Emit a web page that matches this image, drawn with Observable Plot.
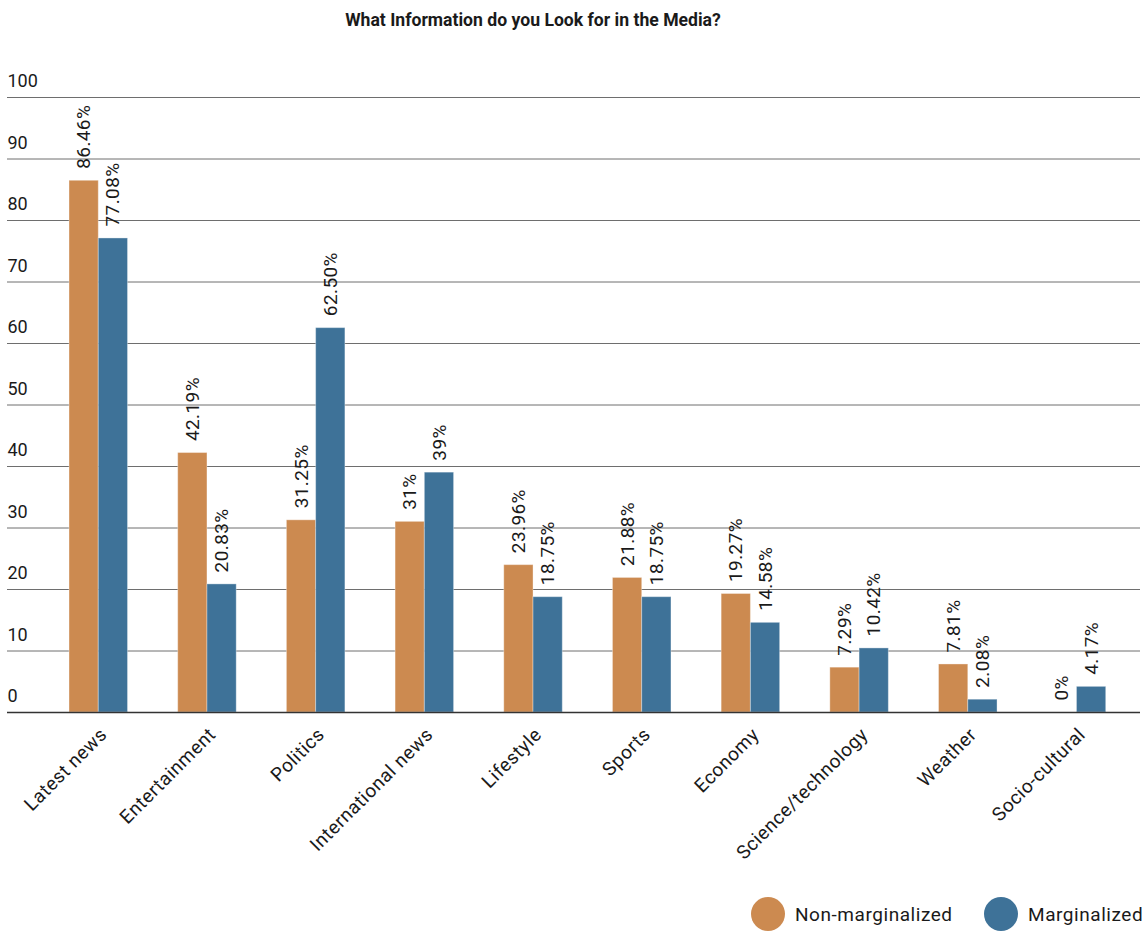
<!DOCTYPE html>
<html>
<head>
<meta charset="utf-8">
<script src="https://cdn.jsdelivr.net/npm/d3@7"></script>
<script src="https://cdn.jsdelivr.net/npm/@observablehq/plot@0.6"></script>
<style>
  body { margin: 0; background: #fff; font-family: Roboto, "Noto Sans", sans-serif; color: #1a1a1a; }
  #wrap { position: relative; width: 1143px; height: 932px; overflow: hidden; }
  #title { position: absolute; top: 10px; left: 0; width: 1066px; text-align: center; font-weight: 700; font-size: 17.6px; }
  #chart { position: absolute; top: 40px; left: 0; }
  .leg { position: absolute; top: 897px; height: 34px; display: flex; align-items: center; font-size: 19px; letter-spacing: 0.55px; }
  .dot { width: 34px; height: 34px; border-radius: 50%; margin-right: 10px; }
</style>
</head>
<body>
<div id="wrap">
  <div id="title">What Information do you Look for in the Media?</div>
  <div id="chart"></div>
</div>
<script>
const categories = ["Latest news", "Entertainment", "Politics", "International news", "Lifestyle", "Sports", "Economy", "Science/technology", "Weather", "Socio-cultural"];
const series = ["Non-marginalized", "Marginalized"];
const colors = ["#cc8a50", "#3e7298"];
const nonMarginalized = ["86.46", "42.19", "31.25", "31", "23.96", "21.88", "19.27", "7.29", "7.81", "0"];
const marginalized = ["77.08", "20.83", "62.50", "39", "18.75", "18.75", "14.58", "10.42", "2.08", "4.17"];
const yTicks = [0, 10, 20, 30, 40, 50, 60, 70, 80, 90, 100];

const rowsA = categories.map((c, i) => ({category: c, series: series[0], value: +nonMarginalized[i], label: nonMarginalized[i] + "%"}));
const rowsB = categories.map((c, i) => ({category: c, series: series[1], value: +marginalized[i], label: marginalized[i] + "%"}));

const half = 29.25;
const chart = Plot.plot({
  width: 1143,
  height: 840,
  marginLeft: 7,
  marginRight: 3,
  marginTop: 57,
  marginBottom: 168,
  style: {fontFamily: "Roboto, 'Noto Sans', sans-serif", fontSize: "18px", color: "#1a1a1a", background: "#fff"},
  x: {domain: categories, paddingInner: 0.4617, paddingOuter: 0.443, align: 0.644, round: false, label: null},
  y: {domain: [0, 100], label: null},
  color: {domain: series, range: colors},
  marks: [
    Plot.gridY(yTicks, {stroke: "#6e6e6e", strokeOpacity: 1}),
    Plot.axisY(yTicks, {anchor: "left", tickSize: 0, tickPadding: 0, textAnchor: "start", dx: 0, dy: -16, fontSize: 18, fill: "#1a1a1a", label: null}),
    Plot.barY(rowsA, {x: "category", y: "value", fill: "series", insetRight: half, stroke: "#fff", strokeOpacity: 0.35, strokeWidth: 1}),
    Plot.barY(rowsB, {x: "category", y: "value", fill: "series", insetLeft: half, stroke: "#fff", strokeOpacity: 0.35, strokeWidth: 1}),
    Plot.ruleY([0], {stroke: "#333", strokeWidth: 1.5}),
    Plot.text(rowsA, {x: "category", y: "value", text: "label", rotate: -90, textAnchor: "start", dx: -half / 2, dy: -12, fontSize: 19, fill: "#1a1a1a"}),
    Plot.text(rowsB, {x: "category", y: "value", text: "label", rotate: -90, textAnchor: "start", dx: half / 2, dy: -12, fontSize: 19, fill: "#1a1a1a"}),
    Plot.axisX({tickRotate: -45, tickSize: 0, tickPadding: 8, dx: 5, dy: 11, fontSize: 19, fill: "#1a1a1a", label: null})
  ]
});
d3.select(chart).selectAll("g[aria-label='text'] text").style("letter-spacing", "0.4px");
d3.select(chart).selectAll("g[aria-label='x-axis tick label'] text").style("letter-spacing", "0.5px");
document.getElementById("chart").appendChild(chart);

const wrap = document.getElementById("wrap");
const legPos = [751, 984];
series.forEach((s, i) => {
  const d = document.createElement("div");
  d.className = "leg";
  d.style.left = legPos[i] + "px";
  d.innerHTML = `<div class="dot" style="background:${colors[i]}"></div><span>${s}</span>`;
  wrap.appendChild(d);
});
</script>
</body>
</html>
